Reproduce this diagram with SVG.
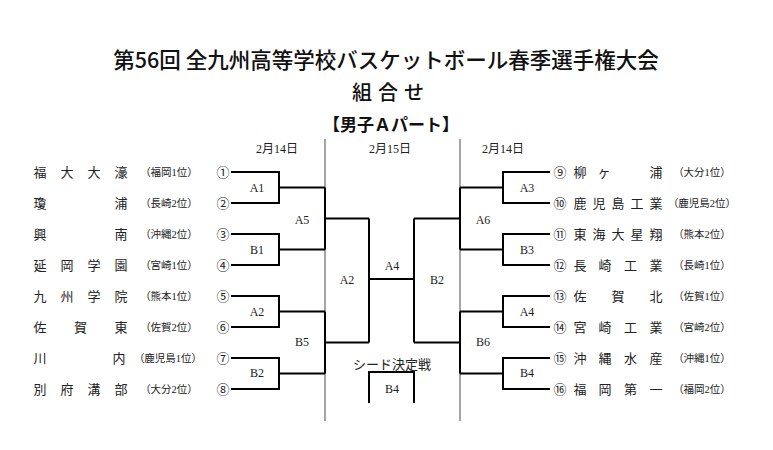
<svg xmlns="http://www.w3.org/2000/svg" width="773" height="450" viewBox="0 0 773 450">
<style>
.title{font-family:"Noto Sans CJK JP",sans-serif;fill:#111}
.nm{font-family:"Noto Sans CJK JP",sans-serif;font-size:13px;fill:#222;text-anchor:middle}
.pf{font-family:"Liberation Serif","Noto Sans CJK JP",serif;font-size:10.5px;fill:#222;text-anchor:middle}
.cn{font-family:"Noto Sans CJK JP",sans-serif;font-size:13px;fill:#222;text-anchor:middle}
.lb{font-family:"Liberation Serif","Noto Sans CJK JP",serif;font-size:12px;fill:#222;text-anchor:middle}
.dt{font-family:"Liberation Serif","Noto Sans CJK JP",serif;font-size:12px;fill:#222;text-anchor:middle}
.br{fill:none;stroke:#000;stroke-width:2}
.gl{fill:none;stroke:#888;stroke-width:1.5}
</style>
<rect width="773" height="450" fill="#fff"/>
<g id="header">
<text class="title" x="386" y="68" font-size="21.5" font-weight="500" text-anchor="middle">第56回 全九州高等学校バスケットボール春季選手権大会</text>
<text class="title" x="362 375 388 401 414" y="100" font-size="20" font-weight="500" text-anchor="middle">組 合 せ</text>
<text class="title" x="391" y="131" font-size="17" font-weight="bold" text-anchor="middle">【男子Ａパート】</text>
</g>
<g id="dates">
<text class="dt" x="277" y="153">2月14日</text>
<text class="dt" x="390" y="153">2月15日</text>
<text class="dt" x="503" y="153">2月14日</text>
</g>
<g id="connectors">
<path class="gl" d="M325,139V421M460,139V421"/>
<path class="br" d="M231,172H279V203H231M279,187.5H325M231,234H279V265H231M279,249.5H325M325,187.5V249.5M325,218.5H369"/>
<path class="br" d="M231,296H279V327H231M279,311.5H325M231,358H279V389H231M279,373.5H325M325,311.5V373.5M325,342.5H369"/>
<path class="br" d="M369,218.5V342.5M369,279H414M414,218.5V342.5"/>
<path class="br" d="M550,172H503V203H550M503,187.5H460M550,234H503V265H550M503,249.5H460M460,187.5V249.5M460,218.5H414"/>
<path class="br" d="M550,296H503V327H550M503,311.5H460M550,358H503V389H550M503,373.5H460M460,311.5V373.5M460,342.5H414"/>
<path class="br" d="M369,403V372H414V403"/>
</g>
<g id="match-labels">
<text class="lb" x="257" y="192">A1</text>
<text class="lb" x="257" y="254">B1</text>
<text class="lb" x="257" y="316">A2</text>
<text class="lb" x="257" y="377">B2</text>
<text class="lb" x="302" y="224">A5</text>
<text class="lb" x="302" y="346">B5</text>
<text class="lb" x="347" y="284">A2</text>
<text class="lb" x="392" y="270">A4</text>
<text class="lb" x="437" y="284">B2</text>
<text class="cn" x="392" y="369" font-size="11">シード決定戦</text>
<text class="lb" x="392" y="393">B4</text>
<text class="lb" x="527" y="192">A3</text>
<text class="lb" x="527" y="254">B3</text>
<text class="lb" x="527" y="316">A4</text>
<text class="lb" x="527" y="377">B4</text>
<text class="lb" x="483" y="224">A6</text>
<text class="lb" x="483" y="346">B6</text>
</g>
<g id="team-1"><text class="nm" x="40 53.5 67 80.5 94 107.5 121" y="177">福 大 大 濠</text><text class="pf" x="169" y="176">（福岡1位）</text><text class="cn" x="223" y="177">①</text></g>
<g id="team-2"><text class="nm" x="40 80 121" y="208">瓊 浦</text><text class="pf" x="169" y="207">（長崎2位）</text><text class="cn" x="223" y="208">②</text></g>
<g id="team-3"><text class="nm" x="40 80 121" y="239">興 南</text><text class="pf" x="169" y="238">（沖縄2位）</text><text class="cn" x="223" y="239">③</text></g>
<g id="team-4"><text class="nm" x="40 53.5 67 80.5 94 107.5 121" y="270">延 岡 学 園</text><text class="pf" x="169" y="269">（宮崎1位）</text><text class="cn" x="223" y="270">④</text></g>
<g id="team-5"><text class="nm" x="40 53.5 67 80.5 94 107.5 121" y="301">九 州 学 院</text><text class="pf" x="169" y="300">（熊本1位）</text><text class="cn" x="223" y="301">⑤</text></g>
<g id="team-6"><text class="nm" x="40 60 80.5 101 121" y="332">佐 賀 東</text><text class="pf" x="169" y="331">（佐賀2位）</text><text class="cn" x="223" y="332">⑥</text></g>
<g id="team-7"><text class="nm" x="40 80 119" y="363">川 内</text><text class="pf" x="168" y="362">（鹿児島1位）</text><text class="cn" x="223" y="363">⑦</text></g>
<g id="team-8"><text class="nm" x="40 53.5 67 80.5 94 107.5 121" y="394">別 府 溝 部</text><text class="pf" x="169" y="393">（大分2位）</text><text class="cn" x="223" y="394">⑧</text></g>
<g id="team-9"><text class="cn" x="560" y="177">⑨</text><text class="nm" x="580 592 604 630 656" y="177">柳 ヶ 浦</text><text class="pf" x="702" y="176">（大分1位）</text></g>
<g id="team-10"><text class="cn" x="560" y="208">⑩</text><text class="nm" x="580 599 618 637 656" y="208">鹿児島工業</text><text class="pf" x="702" y="207">（鹿児島2位）</text></g>
<g id="team-11"><text class="cn" x="560" y="239">⑪</text><text class="nm" x="580 599 618 637 656" y="239">東海大星翔</text><text class="pf" x="702" y="238">（熊本2位）</text></g>
<g id="team-12"><text class="cn" x="560" y="270">⑫</text><text class="nm" x="580 592.5 605 618 630.5 643 656" y="270">長 崎 工 業</text><text class="pf" x="702" y="269">（長崎1位）</text></g>
<g id="team-13"><text class="cn" x="560" y="301">⑬</text><text class="nm" x="580 599 618 637 656" y="301">佐 賀 北</text><text class="pf" x="702" y="300">（佐賀1位）</text></g>
<g id="team-14"><text class="cn" x="560" y="332">⑭</text><text class="nm" x="580 592.5 605 618 630.5 643 656" y="332">宮 崎 工 業</text><text class="pf" x="702" y="331">（宮崎2位）</text></g>
<g id="team-15"><text class="cn" x="560" y="363">⑮</text><text class="nm" x="580 592.5 605 618 630.5 643 656" y="363">沖 縄 水 産</text><text class="pf" x="702" y="362">（沖縄1位）</text></g>
<g id="team-16"><text class="cn" x="560" y="394">⑯</text><text class="nm" x="580 592.5 605 618 630.5 643 656" y="394">福 岡 第 一</text><text class="pf" x="702" y="393">（福岡2位）</text></g>
</svg>
